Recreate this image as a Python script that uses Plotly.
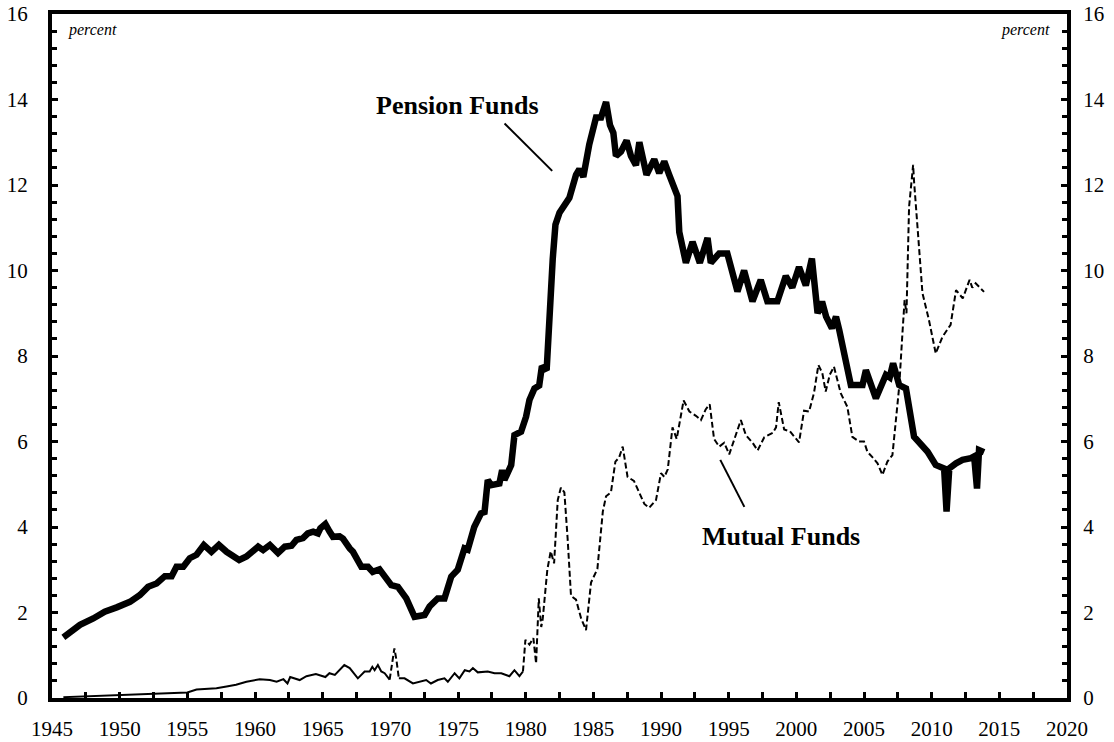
import plotly.graph_objects as go

# ---------------- data ----------------
pension_years = [
    1945.84, 1946.45, 1947.07, 1948.05, 1948.9, 1949.78, 1950.76, 1951.5, 1952.1, 1952.73,
    1953.34, 1953.84, 1954.2, 1954.7, 1955.18, 1955.68, 1956.22, 1956.78, 1957.33, 1957.9,
    1958.26, 1958.83, 1959.37, 1959.74, 1960.23, 1960.6, 1961.1, 1961.7, 1962.2, 1962.7,
    1963.06, 1963.55, 1963.9, 1964.3, 1964.65, 1964.83, 1965.2, 1965.5, 1965.76, 1966.25,
    1966.5, 1967.0, 1967.24, 1967.86, 1968.35, 1968.7, 1969.2, 1970.07, 1970.56, 1971.18,
    1971.79, 1972.53, 1972.9, 1973.5, 1974.0, 1974.5, 1974.98, 1975.48, 1975.72, 1976.2,
    1976.7, 1976.96, 1977.2, 1977.45, 1978.06, 1978.26, 1978.43, 1978.93, 1979.17, 1979.66,
    1980.03, 1980.28, 1980.65, 1981.0, 1981.2, 1981.55, 1981.75, 1982.0, 1982.2, 1982.5,
    1983.23, 1983.72, 1983.97, 1984.26, 1984.7, 1985.2, 1985.57, 1985.94, 1986.23, 1986.48,
    1986.67, 1987.04, 1987.46, 1987.78, 1988.15, 1988.4, 1988.93, 1989.5, 1989.87, 1990.24,
    1990.6, 1991.22, 1991.35, 1991.84, 1992.33, 1992.87, 1993.44, 1993.68, 1994.3, 1994.9,
    1995.65, 1996.14, 1996.76, 1997.37, 1997.86, 1998.6, 1999.22, 1999.7, 2000.2, 2000.7,
    2001.15, 2001.57, 2001.9, 2002.2, 2002.63, 2002.93, 2003.17, 2003.54, 2004.03, 2004.89,
    2005.14, 2005.88, 2006.62, 2006.9, 2007.15, 2007.6, 2008.1, 2008.7, 2009.32, 2009.7,
    2010.3, 2010.92, 2011.1, 2011.3, 2011.8, 2012.28, 2012.9, 2013.14, 2013.35, 2013.5,
    2013.87,
]
pension_values = [
    1.42, 1.57, 1.71, 1.86, 2.02, 2.12, 2.25, 2.41, 2.60, 2.68,
    2.85, 2.85, 3.07, 3.07, 3.27, 3.35, 3.58, 3.42, 3.58, 3.42,
    3.35, 3.23, 3.31, 3.42, 3.54, 3.46, 3.58, 3.39, 3.54, 3.56,
    3.70, 3.74, 3.85, 3.89, 3.85, 3.97, 4.07, 3.90, 3.77, 3.78,
    3.73, 3.50, 3.42, 3.07, 3.07, 2.95, 3.01, 2.64, 2.60, 2.33,
    1.90, 1.94, 2.14, 2.33, 2.33, 2.84, 3.00, 3.50, 3.47, 4.00,
    4.32, 4.35, 5.10, 4.98, 5.02, 5.33, 5.10, 5.45, 6.15, 6.23,
    6.58, 6.97, 7.24, 7.31, 7.76, 7.67, 9.10, 10.27, 11.07, 11.35,
    11.70, 12.24, 12.37, 12.19, 12.95, 13.58, 13.58, 13.94, 13.40, 13.22,
    12.68, 12.78, 13.04, 12.68, 12.46, 13.00, 12.24, 12.60, 12.28, 12.55,
    12.24, 11.74, 10.90, 10.18, 10.67, 10.18, 10.76, 10.18, 10.40, 10.40,
    9.51, 10.00, 9.28, 9.78, 9.28, 9.28, 9.87, 9.60, 10.08, 9.65,
    10.28, 9.00, 9.27, 8.92, 8.65, 8.92, 8.61, 8.06, 7.32, 7.32,
    7.67, 7.01, 7.56, 7.50, 7.83, 7.32, 7.24, 6.11, 5.88, 5.76,
    5.45, 5.37, 4.36, 5.37, 5.49, 5.57, 5.61, 5.65, 4.90, 5.80,
    5.75,
]

mutual_years = [
    1945.84, 1947.5, 1950.0, 1952.5, 1955.0, 1955.68, 1957.15, 1957.9, 1958.6, 1959.37,
    1960.35, 1961.1, 1961.6, 1962.1, 1962.4, 1962.6, 1963.3, 1963.8, 1964.5, 1965.2,
    1965.5, 1965.9, 1966.6, 1967.0, 1967.6, 1968.1, 1968.47, 1968.67, 1968.84, 1969.08,
    1969.33, 1969.58, 1969.95, 1970.3, 1970.45, 1970.63, 1971.05, 1971.67, 1972.28, 1972.65,
    1973.0, 1973.5, 1974.0, 1974.25, 1974.75, 1975.1, 1975.5, 1975.85, 1976.1, 1976.46,
    1977.2, 1977.7, 1978.2, 1978.8, 1979.17, 1979.54, 1979.8, 1979.98, 1980.28, 1980.57,
    1980.77, 1980.97, 1981.15, 1981.26, 1981.6, 1981.85, 1982.1, 1982.37, 1982.6, 1982.86,
    1983.1, 1983.35, 1983.72, 1984.1, 1984.46, 1984.83, 1985.3, 1985.7, 1985.94, 1986.3,
    1986.63, 1986.9, 1987.17, 1987.53, 1988.0, 1988.4, 1988.77, 1989.13, 1989.63, 1990.0,
    1990.25, 1990.5, 1990.85, 1991.16, 1991.67, 1992.1, 1992.58, 1992.95, 1993.3, 1993.6,
    1993.92, 1994.3, 1994.67, 1995.04, 1995.53, 1995.9, 1996.27, 1996.77, 1997.14, 1997.63,
    1998.25, 1998.5, 1998.7, 1999.1, 1999.52, 1999.85, 2000.2, 2000.57, 2000.94, 2001.3,
    2001.63, 2001.92, 2002.17, 2002.47, 2002.78, 2003.28, 2003.77, 2004.14, 2004.63, 2005.0,
    2005.25, 2005.6, 2006.0, 2006.36, 2006.73, 2007.1, 2007.35, 2007.6, 2007.84, 2008.0,
    2008.14, 2008.33, 2008.63, 2008.7, 2008.95, 2009.32, 2009.8, 2010.3, 2010.8, 2011.4,
    2011.8, 2012.3, 2012.8, 2013.0, 2013.25, 2013.87,
]
mutual_values = [
    0.02, 0.04, 0.08, 0.11, 0.13, 0.20, 0.23, 0.27, 0.31, 0.38,
    0.44, 0.42, 0.38, 0.44, 0.34, 0.49, 0.42, 0.51, 0.56, 0.49,
    0.58, 0.54, 0.77, 0.70, 0.46, 0.62, 0.62, 0.73, 0.65, 0.77,
    0.62, 0.58, 0.43, 1.16, 0.89, 0.46, 0.46, 0.34, 0.38, 0.42,
    0.34, 0.42, 0.46, 0.38, 0.58, 0.46, 0.65, 0.62, 0.70, 0.60,
    0.62, 0.58, 0.58, 0.51, 0.65, 0.51, 0.62, 1.36, 1.25, 1.40,
    0.81, 2.33, 1.66, 1.85, 3.00, 3.43, 3.15, 4.63, 4.92, 4.81,
    3.73, 2.39, 2.30, 1.86, 1.59, 2.70, 3.02, 4.36, 4.72, 4.81,
    5.53, 5.62, 5.88, 5.17, 5.08, 4.81, 4.54, 4.45, 4.63, 5.26,
    5.17, 5.35, 6.33, 6.06, 6.96, 6.70, 6.60, 6.50, 6.75, 6.87,
    6.06, 5.88, 5.97, 5.70, 6.15, 6.50, 6.15, 5.97, 5.79, 6.10,
    6.20, 6.33, 6.92, 6.28, 6.24, 6.10, 5.98, 6.72, 6.70, 7.13,
    7.79, 7.60, 7.17, 7.56, 7.75, 7.13, 6.81, 6.11, 6.00, 6.00,
    5.76, 5.64, 5.49, 5.22, 5.53, 5.68, 6.50, 7.28, 8.53, 9.31,
    9.00, 11.49, 12.47, 12.08, 11.03, 9.47, 8.84, 8.06, 8.45, 8.73,
    9.54, 9.35, 9.78, 9.60, 9.70, 9.50,
]

x_tick_labels = [str(y) for y in range(1945, 2021, 5)]
y_tick_labels = [str(v) for v in range(0, 17, 2)]

# ------------------------------------------------------------------------
FONT = "Liberation Serif"
fig = go.Figure()

# Mutual funds: reference draws flat stretches solid and steep runs dashed
breaks = [1969.95, 1970.63, 1979.8]
segments = [
    (None, breaks[0], "solid"),
    (breaks[0], breaks[1], "6px,3px"),
    (breaks[1], breaks[2], "solid"),
    (breaks[2], None, "6px,3px"),
]
for lo, hi, dash in segments:
    xs, ys = [], []
    for yr, v in zip(mutual_years, mutual_values):
        if (lo is None or yr >= lo) and (hi is None or yr <= hi):
            xs.append(yr)
            ys.append(v)
    fig.add_trace(go.Scatter(x=xs, y=ys, mode="lines",
                             line=dict(color="black", width=2, dash=dash),
                             showlegend=False, hoverinfo="skip"))

fig.add_trace(go.Scatter(x=pension_years, y=pension_values, mode="lines",
                         line=dict(color="black", width=6.5),
                         showlegend=False, name="Pension Funds"))

# invisible trace to activate right-hand axis
fig.add_trace(go.Scatter(x=pension_years, y=pension_values, yaxis="y2", mode="lines",
                         line=dict(color="rgba(0,0,0,0)", width=0),
                         showlegend=False, hoverinfo="skip"))

tickfont = dict(family=FONT, size=21, color="black")
yaxis_common = dict(
    range=[0, 16], tickmode="array",
    tickvals=[int(t) for t in y_tick_labels], ticktext=y_tick_labels,
    ticks="inside", ticklen=6, tickwidth=3, tickcolor="black",
    minor=dict(dtick=0.4, tick0=0, ticks="inside", ticklen=5, tickwidth=3, tickcolor="black"),
    showgrid=False, zeroline=False, tickfont=tickfont,
    showline=True, linecolor="black", linewidth=4, automargin=False,
)

fig.update_layout(
    width=1114, height=742,
    margin=dict(l=52, r=47, t=14, b=44),
    paper_bgcolor="white", plot_bgcolor="white",
    xaxis=dict(
        range=[1945, 2020], tickmode="array",
        tickvals=[int(t) for t in x_tick_labels], ticktext=x_tick_labels,
        ticks="inside", ticklen=6, tickwidth=3, tickcolor="black",
        minor=dict(dtick=2.5, tick0=1945, ticks="inside", ticklen=6, tickwidth=3, tickcolor="black"),
        showgrid=False, zeroline=False, tickfont=tickfont,
        showline=True, linecolor="black", linewidth=4, mirror=True,
        ticklabelstandoff=9, automargin=False,
    ),
    yaxis=dict(**yaxis_common, side="left", mirror=True, ticklabelstandoff=16),
    yaxis2=dict(**yaxis_common, side="right", overlaying="y", ticklabelstandoff=8),
    showlegend=False,
)

ann_font = dict(family=FONT, size=26, color="black")
fig.add_annotation(x=1974.96, y=13.87, xref="x", yref="y", text="<b>Pension Funds</b>",
                   showarrow=False, font=ann_font)
fig.add_annotation(x=1998.86, y=3.77, xref="x", yref="y", text="<b>Mutual Funds</b>",
                   showarrow=False, font=ann_font)
fig.add_shape(type="line", x0=1978.44, y0=13.44, x1=1981.96, y1=12.33,
              xref="x", yref="y", line=dict(color="black", width=2))
fig.add_shape(type="line", x0=1994.38, y0=5.57, x1=1996.16, y1=4.47,
              xref="x", yref="y", line=dict(color="black", width=2))

pfont = dict(family=FONT, size=16, color="black")
fig.add_annotation(x=0.014, y=0.977, xref="paper", yref="paper", text="<i>percent</i>",
                   showarrow=False, xanchor="left", yanchor="middle", font=pfont)
fig.add_annotation(x=0.985, y=0.977, xref="paper", yref="paper", text="<i>percent</i>",
                   showarrow=False, xanchor="right", yanchor="middle", font=pfont)

fig.write_html("out.html",
               config={"displayModeBar": False},
               post_script="document.body.style.margin='0px';document.body.style.overflow='hidden';")
